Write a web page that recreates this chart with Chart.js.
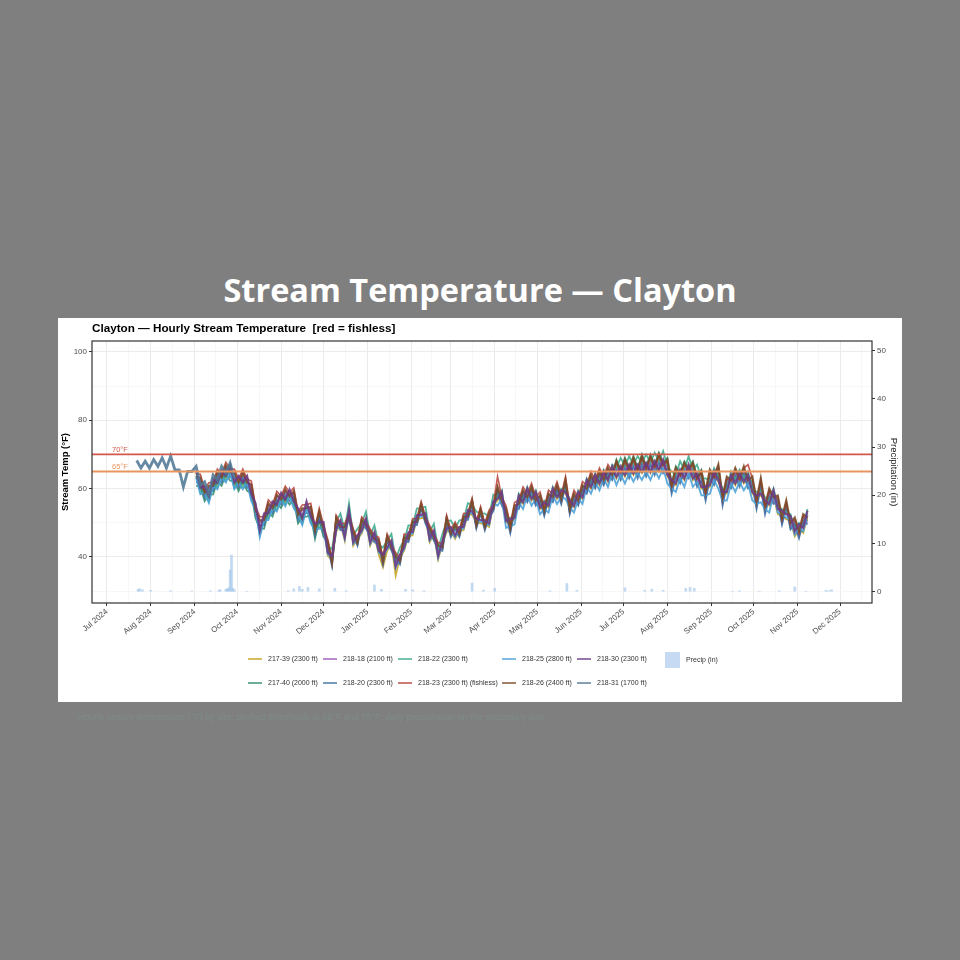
<!DOCTYPE html>
<html>
<head>
<meta charset="utf-8">
<title>Stream Temperature — Clayton</title>
<script src="https://cdn.jsdelivr.net/npm/chart.js@4.4.1/dist/chart.umd.min.js"></script>
<style>
  html, body { margin: 0; padding: 0; }
  body { width: 960px; height: 960px; background: #7f7f7f; position: relative; overflow: hidden; font-family: "Liberation Sans", Arial, sans-serif; }
  #pageTitle { position: absolute; left: 0; top: 267px; width: 960px; text-align: center; color: #fff; font: 700 32.5px "Open Sans", sans-serif; }
  #panel { position: absolute; left: 58px; top: 318px; width: 844px; height: 384px; background: #fff; }
  #chartTitle { position: absolute; left: 34px; top: 3px; font: bold 11.7px "Liberation Sans", Arial, sans-serif; color: #000; white-space: pre; }
  #panel canvas { position: absolute; left: 0; top: 0; }
  .key { position: absolute; width: 14px; height: 2px; }
  .lbl { position: absolute; font-size: 7px; line-height: 8px; color: #333; white-space: nowrap; }
  #caption { position: absolute; left: 78px; top: 712px; font-size: 9px; color: #7e8c87; white-space: nowrap; }
</style>
</head>
<body>
<div id="pageTitle">Stream Temperature — Clayton</div>
<div id="panel">
  <canvas id="tempChart" width="844" height="384"></canvas>
  <div id="chartTitle">Clayton — Hourly Stream Temperature  [red = fishless]</div>
  <div id="legend"></div>
</div>
<div id="caption">Hourly stream temperature (°F) by site; dashed thresholds at 65°F and 70°F; daily precipitation on the secondary axis</div>

<script>
const firstDate = '2024-09-02';
const earlyDate = '2024-07-22';
const stepDays = 3;

const seriesNames = ['217-39 (2300 ft)', '217-40 (2000 ft)', '218-18 (2100 ft)', '218-20 (2300 ft)', '218-22 (2300 ft)',
    '218-23 (2300 ft) (fishless)', '218-25 (2800 ft)', '218-26 (2400 ft)', '218-30 (2300 ft)', '218-31 (1700 ft)'];
const seriesColors = ['#c4a21c', '#2e8b6a', '#9b59b6', '#3a6f9f', '#3aaa8c',
    '#b9433a', '#4a9fd8', '#7a4a26', '#6c3a86', '#4f7795'];
const seriesWidths = [1.8, 1.8, 1.8, 1.8, 1.8, 1.6, 1.9, 2.2, 2.2, 2.8];

const s217_39 = [64.7, 59.8, 60.2, 57.3, 62.2, 61.3, 64.7, 63.3, 66.2, 61.3, 63.2, 61.3, 63.2, 57.8, 55.2, 47.3, 52.2, 52.3, 55.7, 54.8, 58.2, 56.3, 59.2, 55.8, 53.7, 50.8, 55.7, 51.3, 49.2, 49.8, 49.7,
    40.3, 39.2, 47.3, 49.7, 44.8, 52.7, 43.3, 45.2, 46.8, 50.2, 43.3, 46.2, 40.8, 37.0, 41.8, 43.7, 34.5, 39.7, 41.8, 46.2, 46.3, 51.2, 51.3, 51.7, 44.3, 46.7, 39.3, 43.7, 47.3, 47.7, 45.3, 47.7, 47.8, 52.7, 52.3, 50.2, 49.8, 49.7, 48.8, 55.2,
    56.5, 58.5, 50, 50.5, 51, 57.5, 55.5, 59.5, 56.5, 58.5, 54, 55.5, 54.5, 59.5, 57, 59, 58.5, 56, 54.5, 58.5, 57, 62, 60, 63.5, 61, 64.5, 62, 66,
    63, 66, 63.5, 66.5, 64, 66.5, 64.5, 67, 64.5, 67.5, 65, 68, 63.5, 62, 61, 65, 62.5, 66.5, 62.5, 64, 60, 60, 60.5, 64.5, 62, 58.5, 58.5, 63.5, 61, 64, 61.5, 63.5, 58.5, 57.5, 58, 56, 55,
    58, 52.5, 52, 51, 50.5, 46, 48, 47, 52];
const s217_40 = [60.8, 60.7, 56.3, 58.2, 58.3, 62.2, 60.8, 64.2, 62.3, 62.2, 59.3, 62.2, 59.3, 58.7, 51.3, 48.2, 48.3, 53.2, 51.8, 55.7, 54.3, 57.2, 55.3, 56.7, 49.8, 51.7, 51.8, 52.2, 45.3, 50.7, 45.8,
    44.7, 38.8, 51.7, 49.3, 49.2, 52.3, 47.7, 44.8, 51.2, 49.8, 47.7, 45.8, 45.2, 39.3, 46.2, 43.3, 40.7, 39.3, 46.2, 45.8, 50.7, 50.8, 55.7, 51.3, 48.7, 46.3, 43.7, 43.3, 51.7, 47.3, 49.7, 47.3, 52.2, 52.3, 56.7, 49.8, 54.2, 49.3, 53.2, 54.8,
    60, 56, 53.5, 48, 54.5, 55, 59, 57, 60, 56, 57.5, 53, 58, 57, 60.5, 56.5, 62, 53.5, 58, 56, 60.5, 59.5, 63.5, 61, 64.5, 62, 65.5, 63.5,
    68.5, 65.5, 69, 66, 69.5, 66, 70, 66.5, 70, 67, 70.5, 67.5, 69, 61.5, 66.5, 64.5, 68, 66, 68, 63.5, 65.5, 59.5, 64.5, 62.5, 66, 56.5, 62.5, 61.5, 65, 62, 65.5, 61.5, 62.5, 55.5, 62, 54, 59,
    56.5, 57, 50.5, 55.5, 49, 50.5, 46.5, 51.5, 50.5];
const s218_18 = [62.8, 62.7, 58.3, 60.2, 60.3, 64.2, 62.8, 66.2, 64.3, 64.2, 61.3, 64.2, 61.3, 60.7, 53.3, 50.2, 50.3, 55.2, 53.8, 57.7, 56.3, 59.2, 57.3, 58.7, 51.8, 53.7, 53.8, 54.2, 47.3, 52.7, 47.8,
    43.7, 37.8, 50.7, 48.3, 48.2, 51.3, 46.7, 43.8, 50.2, 48.8, 46.7, 44.8, 44.2, 38.3, 45.2, 42.3, 39.7, 38.3, 45.2, 44.8, 49.7, 49.8, 54.7, 50.3, 47.7, 45.3, 42.7, 42.3, 50.7, 46.3, 48.7, 46.3, 51.2, 51.3, 55.7, 48.8, 53.2, 48.3, 52.2, 53.8,
    59.5, 55.5, 53, 47.5, 54, 54.5, 58.5, 56.5, 59.5, 55.5, 57, 52.5, 57.5, 56.5, 60, 56, 61.5, 53, 57.5, 55.5, 60, 59, 63, 60.5, 64, 61.5, 65, 63,
    66.5, 63.5, 67, 64, 67.5, 64, 68, 64.5, 68, 65, 68.5, 65.5, 67, 59.5, 64.5, 62.5, 66, 64, 66, 61.5, 63.5, 57.5, 64, 62, 65.5, 56, 62, 61, 64.5, 61.5, 65, 61, 62, 55, 61.5, 53.5, 58.5,
    56, 56.5, 50, 55, 48.5, 50, 46, 51, 50];
const s218_20 = [61.8, 61.7, 57.3, 59.2, 59.3, 63.2, 61.8, 65.2, 63.3, 63.2, 60.3, 63.2, 60.3, 59.7, 52.3, 49.2, 49.3, 54.2, 52.8, 56.7, 55.3, 58.2, 56.3, 57.7, 50.8, 52.7, 52.8, 53.2, 46.3, 51.7, 46.8,
    43.2, 37.3, 50.2, 47.8, 47.7, 50.8, 46.2, 43.3, 49.7, 48.3, 46.2, 44.3, 43.7, 37.8, 44.7, 41.8, 39.2, 37.8, 44.7, 44.3, 49.2, 49.3, 54.2, 49.8, 47.2, 44.8, 42.2, 41.8, 50.2, 45.8, 48.2, 45.8, 50.7, 50.8, 55.2, 48.3, 52.7, 47.8, 51.7, 53.3,
    59, 55, 52.5, 47, 53.5, 54, 58, 56, 59, 55, 56.5, 52, 57, 56, 59.5, 55.5, 61, 52.5, 57, 55, 59.5, 58.5, 62.5, 60, 63.5, 61, 64.5, 62.5,
    65.5, 62.5, 66, 63, 66.5, 63, 67, 63.5, 67, 64, 67.5, 64.5, 66, 58.5, 63.5, 61.5, 65, 63, 65, 60.5, 62.5, 56.5, 63, 61, 64.5, 55, 61, 60, 63.5, 60.5, 64, 60, 61, 54, 60.5, 52.5, 57.5,
    55.5, 56, 49.5, 54.5, 48, 49.5, 45.5, 50.5, 49.5];
const s218_22 = [63.7, 58.8, 59.2, 56.3, 61.2, 60.3, 63.7, 62.3, 65.2, 60.3, 62.2, 60.3, 62.2, 56.8, 54.2, 46.3, 51.2, 51.3, 54.7, 53.8, 57.2, 55.3, 58.2, 54.8, 52.7, 49.8, 54.7, 50.3, 48.2, 48.8, 48.7,
    43.3, 42.2, 50.3, 52.7, 47.8, 55.7, 46.3, 48.2, 49.8, 53.2, 46.3, 49.2, 43.8, 42.7, 44.8, 46.7, 39.3, 42.7, 44.8, 49.2, 49.3, 54.2, 54.3, 54.7, 47.3, 49.7, 42.3, 46.7, 50.3, 50.7, 48.3, 50.7, 50.8, 55.7, 55.3, 53.2, 52.8, 52.7, 51.8, 58.2,
    57.5, 59.5, 51, 51.5, 52, 58.5, 56.5, 60.5, 57.5, 59.5, 55, 56.5, 55.5, 60.5, 58, 60, 59.5, 57, 55.5, 59.5, 58, 63, 61, 64.5, 62, 65.5, 63, 67,
    66, 69, 66.5, 69.5, 67, 69.5, 67.5, 70, 67.5, 70.5, 68, 71, 66.5, 65, 64, 68, 65.5, 69.5, 65.5, 67, 63, 63, 62, 66, 63.5, 60, 60, 65, 62.5, 65.5, 63, 65, 60, 59, 59.5, 57.5, 56.5,
    60, 54.5, 54, 53, 52.5, 48, 50, 49, 54];
const s218_23 = [64.3, 64.2, 59.8, 61.7, 61.8, 65.7, 64.3, 67.7, 65.8, 65.7, 62.8, 65.7, 62.8, 62.2, 54.8, 51.7, 51.8, 56.7, 55.3, 59.2, 57.8, 60.7, 58.8, 60.2, 53.3, 55.2, 55.3, 55.7, 48.8, 54.2, 49.3,
    45.2, 39.3, 52.2, 49.8, 49.7, 52.8, 48.2, 45.3, 51.7, 50.3, 48.2, 46.3, 45.7, 39.8, 46.7, 43.8, 41.2, 39.8, 46.7, 46.3, 51.2, 51.3, 56.2, 51.8, 49.2, 46.8, 44.2, 43.8, 52.2, 47.8, 50.2, 47.8, 52.7, 52.8, 57.2, 50.3, 54.7, 49.8, 53.7, 55.3,
    63.5, 57.5, 55, 49.5, 56, 56.5, 60.5, 58.5, 61.5, 57.5, 59, 54.5, 59.5, 58.5, 62, 58, 63.5, 55, 59.5, 57.5, 62, 61, 65, 62.5, 66, 63.5, 67, 65,
    67.5, 64.5, 68, 65, 68.5, 65, 69, 65.5, 69, 66, 69.5, 66.5, 68, 60.5, 65.5, 63.5, 67, 65, 67, 62.5, 64.5, 58.5, 65, 63, 66.5, 57, 63, 62, 65.5, 62.5, 66, 67, 63, 56, 62.5, 54.5, 59.5,
    57, 57.5, 51, 56, 49.5, 51, 47, 52, 51];
const s218_25 = [63.2, 58.3, 58.7, 55.8, 60.7, 59.8, 63.2, 61.8, 64.7, 59.8, 61.7, 59.8, 61.7, 56.3, 53.7, 45.8, 50.7, 50.8, 54.2, 53.3, 56.7, 54.8, 57.7, 54.3, 52.2, 49.3, 54.2, 49.8, 47.7, 48.3, 48.2,
    40.8, 39.7, 47.8, 50.2, 45.3, 53.2, 43.8, 45.7, 47.3, 50.7, 43.8, 46.7, 41.3, 40.2, 42.3, 44.2, 36.8, 40.2, 42.3, 46.7, 46.8, 51.7, 51.8, 52.2, 44.8, 47.2, 39.8, 44.2, 47.8, 48.2, 45.8, 48.2, 48.3, 53.2, 52.8, 50.7, 50.3, 50.2, 49.3, 55.7,
    55, 57, 48.5, 49, 49.5, 56, 54, 58, 55, 57, 52.5, 54, 53, 58, 55.5, 57.5, 57, 54.5, 53, 57, 55.5, 60.5, 58.5, 62, 59.5, 63, 60.5, 64.5,
    61, 64, 61.5, 64.5, 62, 64.5, 62.5, 65, 62.5, 65.5, 63, 66, 61.5, 60, 59, 63, 60.5, 64.5, 60.5, 62, 58, 58, 58.5, 62.5, 60, 56.5, 56.5, 61.5, 59, 62, 59.5, 61.5, 56.5, 55.5, 56, 54, 53,
    58.5, 53, 52.5, 51.5, 51, 46.5, 48.5, 47.5, 52.5];
const s218_26 = [63.3, 63.2, 58.8, 60.7, 60.8, 64.7, 63.3, 66.7, 64.8, 64.7, 61.8, 64.7, 61.8, 61.2, 53.8, 50.7, 50.8, 55.7, 54.3, 58.2, 56.8, 59.7, 57.8, 59.2, 52.3, 54.2, 54.3, 54.7, 47.8, 53.2, 48.3,
    44.2, 38.3, 51.2, 48.8, 48.7, 51.8, 47.2, 44.3, 50.7, 49.3, 47.2, 45.3, 44.7, 38.8, 45.7, 42.8, 40.2, 38.8, 45.7, 45.3, 50.2, 50.3, 55.2, 50.8, 48.2, 45.8, 43.2, 42.8, 51.2, 46.8, 49.2, 46.8, 51.7, 51.8, 56.2, 49.3, 53.7, 48.8, 52.7, 54.3,
    60.5, 56.5, 54, 48.5, 55, 55.5, 59.5, 57.5, 60.5, 56.5, 58, 53.5, 58.5, 57.5, 61, 57, 62.5, 54, 58.5, 56.5, 61, 60, 64, 61.5, 65, 62.5, 66, 64,
    68, 65, 68.5, 65.5, 69, 65.5, 69.5, 66, 69.5, 66.5, 70, 67, 68.5, 61, 66, 64, 67.5, 65.5, 67.5, 63, 65, 59, 65.5, 63.5, 67, 57.5, 63.5, 62.5, 66, 63, 66.5, 62.5, 63.5, 56.5, 63, 55, 60,
    57.5, 58, 51.5, 56.5, 50, 51.5, 47.5, 52.5, 51.5];
const s218_30 = [65.2, 60.3, 60.7, 57.8, 62.7, 61.8, 65.2, 63.8, 66.7, 61.8, 63.7, 61.8, 63.7, 58.3, 55.7, 47.8, 52.7, 52.8, 56.2, 55.3, 58.7, 56.8, 59.7, 56.3, 54.2, 51.3, 56.2, 51.8, 49.7, 50.3, 50.2,
    41.3, 40.2, 48.3, 50.7, 45.8, 53.7, 44.3, 46.2, 47.8, 51.2, 44.3, 47.2, 41.8, 40.7, 42.8, 44.7, 37.3, 40.7, 42.8, 47.2, 47.3, 52.2, 52.3, 52.7, 45.3, 47.7, 40.3, 44.7, 48.3, 48.7, 46.3, 48.7, 48.8, 53.7, 53.3, 51.2, 50.8, 50.7, 49.8, 56.2,
    57, 59, 50.5, 51, 51.5, 58, 56, 60, 57, 59, 54.5, 56, 55, 60, 57.5, 59.5, 59, 56.5, 55, 59, 57.5, 62.5, 60.5, 64, 61.5, 65, 62.5, 66.5,
    63.5, 66.5, 64, 67, 64.5, 67, 65, 67.5, 65, 68, 65.5, 68.5, 64, 62.5, 61.5, 65.5, 63, 67, 63, 64.5, 60.5, 60.5, 61, 65, 62.5, 59, 59, 64, 61.5, 64.5, 62, 64, 59, 58, 58.5, 56.5, 55.5,
    59.5, 54, 53.5, 52.5, 52, 47.5, 49.5, 48.5, 53.5];
// 218-31 only logged through the end of September 2024
const s218_31 = [68.2, 66, 68, 66, 68.5, 66.5, 69, 66, 69.5, 65.5, 65.5, 60.5, 65, 65, 66.5, 61, 62, 58.5, 64, 62.5, 66.5, 64.5, 67.5, 63];

const seriesValues = [s217_39, s217_40, s218_18, s218_20, s218_22, s218_23, s218_25, s218_26, s218_30, s218_31];
const seriesStarts = [firstDate, firstDate, firstDate, firstDate, firstDate, firstDate, firstDate, firstDate, firstDate, earlyDate];

// Daily precipitation (in)
const precipDates = ['2024-07-23', '2024-07-24', '2024-07-26', '2024-08-01', '2024-08-15', '2024-08-30', '2024-09-12', '2024-09-18', '2024-09-19', '2024-09-23',
    '2024-09-24', '2024-09-25', '2024-09-26', '2024-09-27', '2024-09-28', '2024-09-29', '2024-10-08', '2024-11-06', '2024-11-10', '2024-11-14',
    '2024-11-16', '2024-11-20', '2024-11-28', '2024-12-09', '2024-12-17', '2025-01-06', '2025-01-11', '2025-01-28', '2025-02-02', '2025-02-10',
    '2025-03-16', '2025-03-24', '2025-04-01', '2025-05-10', '2025-05-22', '2025-05-29', '2025-07-02', '2025-07-16', '2025-07-21', '2025-07-29',
    '2025-08-14', '2025-08-17', '2025-08-20', '2025-09-16', '2025-09-21', '2025-10-05', '2025-10-19', '2025-10-30', '2025-11-07', '2025-11-21',
    '2025-11-23', '2025-11-25'];
const precipIn = [0.5, 0.6, 0.4, 0.3, 0.2, 0.15, 0.2, 0.3, 0.4, 0.5,
    0.6, 0.8, 4.5, 7.6, 0.7, 0.4, 0.1, 0.2, 0.6, 1.1,
    0.5, 0.9, 0.6, 0.7, 0.2, 1.4, 0.5, 0.5, 0.4, 0.2,
    1.8, 0.3, 0.7, 0.2, 1.7, 0.3, 0.8, 0.3, 0.5, 0.3,
    0.7, 0.9, 0.7, 0.1, 0.2, 0.1, 0.2, 1.0, 0.1, 0.3,
    0.2, 0.4];

const thresholdValues = [70, 65];
const thresholdTexts = ['70°F', '65°F'];
const thresholdColors = ['#d2584c', '#e9955f'];

const monthLabels = ['Jul 2024', 'Aug 2024', 'Sep 2024', 'Oct 2024', 'Nov 2024', 'Dec 2024', 'Jan 2025', 'Feb 2025', 'Mar 2025',
    'Apr 2025', 'May 2025', 'Jun 2025', 'Jul 2025', 'Aug 2025', 'Sep 2025', 'Oct 2025', 'Nov 2025', 'Dec 2025'];
const tempTicks = [40, 60, 80, 100];
const tempMinorTicks = [30, 50, 70, 90];
const precipTicks = [0, 10, 20, 30, 40, 50];

const dayMs = 86400000;
const xMin = Date.UTC(2024, 5, 20, 10);
const xMax = Date.UTC(2025, 11, 23, 14);
const fontFamily = '"Liberation Sans", Arial, sans-serif';

function toPoints(startDate, values) {
    const t0 = Date.parse(startDate);
    return values.map((v, i) => ({ x: t0 + i * stepDays * dayMs, y: v }));
}

function buildMonthTicks() {
    const ticks = [];
    const starts = monthLabels.map((_, k) => Date.UTC(2024, 6 + k, 1));
    starts.push(Date.UTC(2026, 0, 1));
    monthLabels.forEach((label, k) => {
        ticks.push({ value: starts[k], text: label, isMinor: false });
        const mid = (starts[k] + starts[k + 1]) / 2;
        if (mid <= xMax) ticks.push({ value: mid, text: '', isMinor: true });
    });
    return ticks;
}

const monthTicks = buildMonthTicks();
const minorGrid = ctx => ctx.tick && ctx.tick.isMinor;

const datasets = [];

thresholdValues.forEach((v, i) => {
    datasets.push({
        label: thresholdTexts[i],
        data: [{ x: xMin, y: v }, { x: xMax, y: v }],
        borderColor: thresholdColors[i],
        borderWidth: 1.8,
        pointRadius: 0,
        yAxisID: 'y',
        order: 0
    });
});

seriesNames.forEach((name, i) => {
    datasets.push({
        label: name,
        data: toPoints(seriesStarts[i], seriesValues[i]),
        borderColor: seriesColors[i] + 'dd',
        borderWidth: seriesWidths[i],
        pointRadius: 0,
        tension: 0,
        yAxisID: 'y',
        order: seriesNames.length - i
    });
});

datasets.push({
    type: 'bar',
    label: 'Precip (in)',
    data: precipDates.map((d, i) => ({ x: Date.parse(d), y: precipIn[i] })),
    backgroundColor: 'rgba(160, 196, 234, 0.65)',
    borderWidth: 0,
    barThickness: 2,
    yAxisID: 'y2',
    order: 20
});

const thresholdLabels = {
    id: 'thresholdLabels',
    afterDatasetsDraw(chart) {
        const { ctx, chartArea, scales } = chart;
        ctx.save();
        ctx.font = '7.5px ' + fontFamily;
        ctx.textBaseline = 'bottom';
        thresholdValues.forEach((v, i) => {
            ctx.fillStyle = thresholdColors[i];
            ctx.fillText(thresholdTexts[i], chartArea.left + 20, scales.y.getPixelForValue(v) - 1);
        });
        ctx.restore();
    }
};

const panelBorder = {
    id: 'panelBorder',
    afterDraw(chart) {
        const { ctx, chartArea: a } = chart;
        ctx.save();
        ctx.strokeStyle = '#333333';
        ctx.lineWidth = 1.2;
        ctx.strokeRect(a.left, a.top, a.right - a.left, a.bottom - a.top);
        ctx.restore();
    }
};

new Chart(document.getElementById('tempChart'), {
    type: 'line',
    data: { datasets },
    options: {
        responsive: false,
        animation: false,
        events: [],
        layout: { padding: { top: 23, bottom: 59, left: 0, right: 0 } },
        plugins: { legend: { display: false }, tooltip: { enabled: false }, title: { display: false } },
        scales: {
            x: {
                type: 'linear',
                min: xMin,
                max: xMax,
                offset: false,
                afterBuildTicks: scale => { scale.ticks = monthTicks.map(t => ({ ...t })); },
                afterFit: scale => { scale.height = 40; },
                border: { display: false },
                grid: {
                    offset: false,
                    color: ctx => minorGrid(ctx) ? '#f3f3f3' : '#ebebeb',
                    lineWidth: ctx => minorGrid(ctx) ? 0.7 : 1,
                    tickColor: ctx => minorGrid(ctx) ? 'rgba(0,0,0,0)' : '#333333',
                    tickLength: 3
                },
                ticks: {
                    autoSkip: false,
                    minRotation: 40,
                    maxRotation: 40,
                    padding: 1,
                    color: '#4d4d4d',
                    font: { size: 8, family: fontFamily },
                    callback: (v, i, ticks) => ticks[i].text || ''
                }
            },
            y: {
                position: 'left',
                min: 26.5,
                max: 103.2,
                afterBuildTicks: scale => {
                    scale.ticks = tempMinorTicks.map(v => ({ value: v, isMinor: true }))
                        .concat(tempTicks.map(v => ({ value: v, isMinor: false })))
                        .sort((a, b) => a.value - b.value);
                },
                afterFit: scale => { scale.width = 34; },
                border: { display: false },
                grid: {
                    color: ctx => minorGrid(ctx) ? '#f3f3f3' : '#ebebeb',
                    lineWidth: ctx => minorGrid(ctx) ? 0.7 : 1,
                    tickColor: ctx => minorGrid(ctx) ? 'rgba(0,0,0,0)' : '#333333',
                    tickLength: 3
                },
                ticks: {
                    padding: 2,
                    color: '#4d4d4d',
                    font: { size: 8, family: fontFamily },
                    callback: (v, i, ticks) => ticks[i].isMinor ? '' : String(v)
                },
                title: {
                    display: true,
                    text: 'Stream Temp (°F)',
                    color: '#000',
                    font: { size: 9.5, weight: 'bold', family: fontFamily },
                    padding: { top: 2, bottom: 0 }
                }
            },
            y2: {
                position: 'right',
                min: -2.34,
                max: 52.0,
                afterBuildTicks: scale => { scale.ticks = precipTicks.map(v => ({ value: v })); },
                afterFit: scale => { scale.width = 30; },
                border: { display: false },
                grid: { drawOnChartArea: false, tickColor: '#333333', tickLength: 3 },
                ticks: {
                    padding: 2,
                    color: '#4d4d4d',
                    font: { size: 8, family: fontFamily }
                },
                title: {
                    display: true,
                    text: 'Precipitation (in)',
                    color: '#1a1a1a',
                    font: { size: 9.5, family: fontFamily },
                    padding: { top: 3, bottom: 0 }
                }
            }
        }
    },
    plugins: [thresholdLabels, panelBorder]
});

// Legend laid out in columns like the original (two rows, column-major)
const legendEl = document.getElementById('legend');
const keyLeft = [190, 265, 340, 444, 519];
const rowMid = [341, 365];
seriesNames.forEach((name, i) => {
    const col = Math.floor(i / 2), row = i % 2;
    const key = document.createElement('div');
    key.className = 'key';
    key.style.left = keyLeft[col] + 'px';
    key.style.top = (rowMid[row] - 1) + 'px';
    key.style.background = seriesColors[i] + 'b3';
    legendEl.appendChild(key);
    const lbl = document.createElement('div');
    lbl.className = 'lbl';
    lbl.style.left = (keyLeft[col] + 20) + 'px';
    lbl.style.top = (rowMid[row] - 4) + 'px';
    lbl.textContent = name;
    legendEl.appendChild(lbl);
});
const pKey = document.createElement('div');
pKey.className = 'key';
pKey.style.cssText = 'left:607px;top:334px;width:15px;height:16px;background:#c6dbf3;';
legendEl.appendChild(pKey);
const pLbl = document.createElement('div');
pLbl.className = 'lbl';
pLbl.style.left = '628px';
pLbl.style.top = '338px';
pLbl.textContent = 'Precip (in)';
legendEl.appendChild(pLbl);
</script>
</body>
</html>
